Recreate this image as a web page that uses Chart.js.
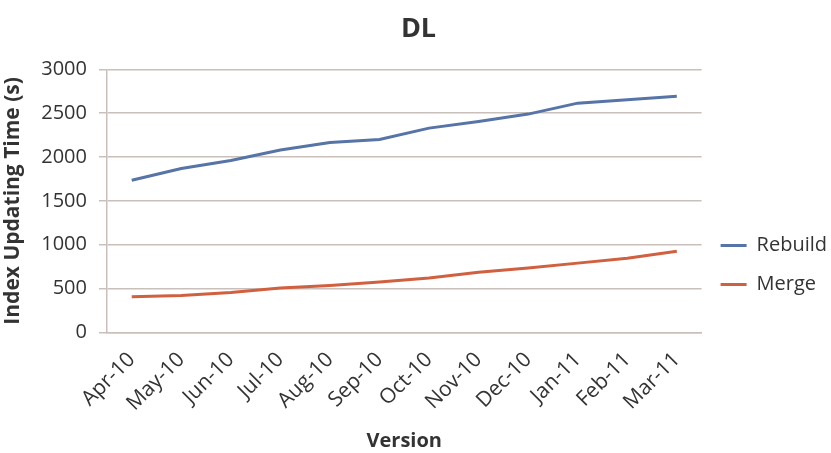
<!DOCTYPE html>
<html>
<head>
<meta charset="utf-8">
<script src="https://cdn.jsdelivr.net/npm/chart.js@4/dist/chart.umd.min.js"></script>
<style>
  html, body { margin: 0; padding: 0; background: #fff; }
  #wrap { width: 831px; height: 453px; }
</style>
</head>
<body>
<div id="wrap"><canvas id="chartDL"></canvas></div>
<script>
const versoes = ['Apr-10', 'May-10', 'Jun-10', 'Jul-10', 'Aug-10', 'Sep-10',
                 'Oct-10', 'Nov-10', 'Dec-10', 'Jan-11', 'Feb-11', 'Mar-11'];
const rebuild = [1735, 1870, 1960, 2080, 2165, 2200, 2330, 2405, 2490, 2615, 2655, 2695];
const merge = [405, 420, 455, 505, 535, 575, 620, 685, 735, 790, 845, 925];
const ticksY = [0, 500, 1000, 1500, 2000, 2500, 3000];

const corTexto = '#333333';
const corGrade = '#c9c0bb';
const fonte = 'Open Sans';

const config = {
    type: 'line',
    data: {
        labels: versoes,
        datasets: [{
            label: 'Rebuild',
            data: rebuild,
            borderColor: '#5674a6',
            backgroundColor: '#5674a6',
            borderWidth: 3,
            pointRadius: 0,
            tension: 0
        }, {
            label: 'Merge',
            data: merge,
            borderColor: '#d0603f',
            backgroundColor: '#d0603f',
            borderWidth: 3,
            pointRadius: 0,
            tension: 0
        }]
    },
    options: {
        responsive: true,
        maintainAspectRatio: false,
        animation: false,
        layout: { padding: { left: 0, right: -6, top: 0, bottom: 0 } },
        plugins: {
            title: {
                display: true,
                text: 'DL',
                color: corTexto,
                font: { family: fonte, size: 27, weight: 'bold' },
                padding: { top: 13, bottom: 24 }
            },
            legend: {
                position: 'right',
                title: {
                    display: true,
                    text: ' ',
                    font: { size: 10 },
                    padding: { top: 65, bottom: 0 }
                },
                labels: {
                    usePointStyle: true,
                    pointStyle: 'line',
                    pointStyleWidth: 26,
                    padding: 19,
                    color: corTexto,
                    font: { family: fonte, size: 20 }
                }
            },
            tooltip: { enabled: false }
        },
        scales: {
            x: {
                offset: true,
                grid: { display: false, drawTicks: false },
                border: { color: corGrade, width: 1.5 },
                ticks: {
                    color: corTexto,
                    font: { family: fonte, size: 21 },
                    minRotation: 45,
                    maxRotation: 45,
                    padding: 15
                },
                title: {
                    display: true,
                    text: 'Version',
                    color: corTexto,
                    font: { family: fonte, size: 20, weight: 'bold' },
                    padding: { top: -2, bottom: 0 }
                }
            },
            y: {
                min: 0,
                max: 3000,
                afterBuildTicks: function (axis) {
                    axis.ticks = ticksY.map(function (v) { return { value: v }; });
                },
                grid: { color: corGrade, lineWidth: 1.5, tickLength: 8 },
                border: { color: corGrade, width: 1.5 },
                ticks: {
                    color: corTexto,
                    font: { family: fonte, size: 20 },
                    padding: 12,
                    callback: function (v) { return String(v); }
                },
                title: {
                    display: true,
                    text: 'Index Updating Time (s)',
                    color: corTexto,
                    font: { family: fonte, size: 21, weight: 'bold' },
                    padding: { top: 0, bottom: 4 }
                }
            }
        }
    }
};

new Chart(document.getElementById('chartDL'), config);
</script>
</body>
</html>
